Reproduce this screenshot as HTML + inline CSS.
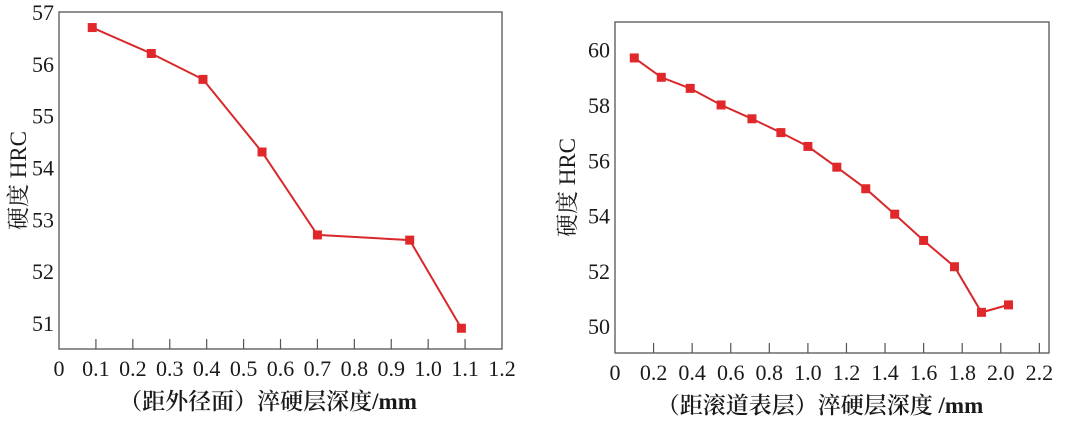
<!DOCTYPE html>
<html><head><meta charset="utf-8">
<style>
html,body{margin:0;padding:0;background:#fff;}
svg{display:block;}
text{font-family:"Liberation Serif","Noto Serif CJK SC",serif;fill:#1a1a1a;}
</style></head>
<body>
<svg id="svg" width="1080" height="426" viewBox="0 0 1080 426"></svg>
<script>
const c1X=[0.09,0.25,0.39,0.55,0.70,0.95,1.09];
const c1Y=[56.7,56.2,55.7,54.3,52.7,52.6,50.9];
const c1XTicks=["0","0.1","0.2","0.3","0.4","0.5","0.6","0.7","0.8","0.9","1.0","1.1","1.2"];
const c1YTicks=["51","52","53","54","55","56","57"];
const c2X=[0.1,0.24,0.39,0.55,0.71,0.86,1.0,1.15,1.3,1.45,1.6,1.76,1.9,2.04];
const c2Y=[59.7,59.0,58.6,58.0,57.5,57.0,56.5,55.75,54.97,54.05,53.1,52.15,50.5,50.77];
const c2XTicks=["0","0.2","0.4","0.6","0.8","1.0","1.2","1.4","1.6","1.8","2.0","2.2"];
const c2YTicks=["50","52","54","56","58","60"];

const NS="http://www.w3.org/2000/svg";
const svg=document.getElementById('svg');
function mk(tag,attrs,parent){const e=document.createElementNS(NS,tag);for(const k in attrs)e.setAttribute(k,attrs[k]);(parent||svg).appendChild(e);return e;}

function drawChart(cfg){
  const g=mk('g',{});
  
  
  const sx=v=>cfg.L+(v-cfg.x0)/(cfg.x1-cfg.x0)*(cfg.R-cfg.L);
  const sy=v=>cfg.B-(v-cfg.y0)/(cfg.y1-cfg.y0)*(cfg.B-cfg.T);
  const frame=mk('rect',{x:cfg.L,y:cfg.T,width:cfg.R-cfg.L,height:cfg.B-cfg.T,fill:'none',stroke:'#555','stroke-width':1.3},g);
  
  
  cfg.xt.forEach((t,i)=>{
    const v=parseFloat(t);const x=sx(v);
    if(i>0&&v<cfg.x1){const tk=mk('line',{x1:x,x2:x,y1:cfg.B,y2:cfg.B-10,stroke:'#555','stroke-width':1.2},g);
      
      }
    const tx=mk('text',{x:x,y:cfg.B+27,'text-anchor':'middle','font-size':22},g);
    tx.textContent=t;
    
    
  });
  cfg.yt.forEach(t=>{
    const y=sy(parseFloat(t));
    const tx=mk('text',{x:cfg.L-5,y:y+8,'text-anchor':'end','font-size':22},g);
    tx.textContent=t;
    
    
  });
  const pts=cfg.xs.map((x,i)=>sx(x).toFixed(1)+','+sy(cfg.ys[i]).toFixed(1)).join(' ');
  const pl=mk('polyline',{points:pts,fill:'none',stroke:'#d8282b','stroke-width':2},g);
  
  
  cfg.xs.forEach((x,i)=>{
    const r=mk('rect',{x:sx(x)-4.5,y:sy(cfg.ys[i])-4.5,width:9,height:9,fill:'#e0282b'},g);
    
    
  });
  const xt=mk('text',{x:cfg.xtx,y:cfg.B+60,'text-anchor':'middle','font-size':23,'font-weight':600},g);
  xt.textContent=cfg.xtitle;
  
  
  const yt=mk('text',{x:0,y:0,'text-anchor':'middle','font-size':23,transform:'translate('+cfg.ytx+','+((cfg.T+cfg.B)/2)+') rotate(-90)'},g);
  yt.textContent='硬度 HRC';
  
  
}
drawChart({name:'outer-diameter-chart',L:59,R:502,T:12,B:349,x0:0,x1:1.2,y0:50.5,y1:57,xs:c1X,ys:c1Y,xt:c1XTicks,yt:c1YTicks,xtitle:'（距外径面）淬硬层深度/mm',xtx:268,ytx:26});
drawChart({name:'raceway-chart',L:615,R:1049,T:22,B:353,x0:0,x1:2.25,y0:49.03,y1:61,xs:c2X,ys:c2Y,xt:c2XTicks,yt:c2YTicks,xtitle:'（距滚道表层）淬硬层深度 /mm',xtx:820,ytx:575});
</script>
</body></html>
